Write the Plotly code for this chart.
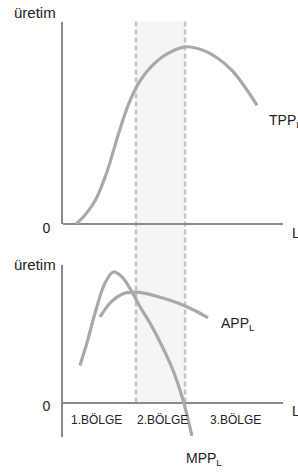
import plotly.graph_objects as go

# ---- data (labor units on x, output units on y) ----
tpp_x = [0.59, 1.00, 1.50, 2.00, 2.50, 3.00, 3.50, 4.00, 4.75, 5.55, 6.30, 7.00, 7.70, 8.30, 8.82]
tpp_y = [0.00, 0.45, 1.25, 2.60, 4.40, 6.00, 7.10, 7.80, 8.45, 8.79, 8.65, 8.25, 7.60, 6.75, 5.89]

mpp_x = [0.77, 1.10, 1.50, 1.90, 2.29, 2.70, 3.10, 3.50, 4.00, 4.50, 5.00, 5.45, 5.86]
mpp_y = [1.84, 3.00, 4.60, 5.90, 6.47, 6.20, 5.55, 4.75, 3.85, 2.80, 1.60, 0.15, -1.65]

app_x = [1.68, 2.20, 2.70, 3.20, 3.80, 4.40, 5.00, 5.60, 6.10, 6.59]
app_y = [4.25, 5.00, 5.38, 5.47, 5.40, 5.22, 5.02, 4.76, 4.50, 4.20]

region_bounds = [3.32, 5.55]
region_labels = ["1.BÖLGE", "2.BÖLGE", "3.BÖLGE"]
region_label_x = [1.50, 4.50, 7.85]

W, H = 298, 474
def px(x):
    return x / W
def py(y):
    return 1 - y / H

FONT = "Liberation Sans, Arial, sans-serif"
CURVE = "#a9a9a9"
AXIS = "#8a8a8a"
TXT = "#222222"

fig = go.Figure()
line = dict(color=CURVE, width=3.2, shape="spline", smoothing=1.0)
fig.add_trace(go.Scatter(x=tpp_x, y=tpp_y, mode="lines", line=line, xaxis="x", yaxis="y", hoverinfo="skip"))
fig.add_trace(go.Scatter(x=mpp_x, y=mpp_y, mode="lines", line=line, xaxis="x2", yaxis="y2", hoverinfo="skip"))
fig.add_trace(go.Scatter(x=app_x, y=app_y, mode="lines", line=line, xaxis="x2", yaxis="y2", hoverinfo="skip"))

xdom = [px(63), px(283)]
common_x = dict(range=[0, 10], domain=xdom, showgrid=False, zeroline=False,
                showline=False, showticklabels=False, ticks="", fixedrange=True)
ytick = dict(tickvals=[0], ticktext=["0"], ticks="", ticklabelstandoff=8, ticklabelshift=4,
             tickfont=dict(size=14, color=TXT))
fig.update_layout(
    width=W, height=H, autosize=False,
    margin=dict(l=0, r=0, t=0, b=0),
    paper_bgcolor="white", plot_bgcolor="rgba(0,0,0,0)",
    showlegend=False,
    font=dict(family=FONT, color=TXT, size=14),
    xaxis=dict(**common_x, anchor="y"),
    xaxis2=dict(**common_x, anchor="y2", matches="x"),
    yaxis=dict(range=[0, 10], domain=[py(230), py(23)], anchor="x",
               showgrid=False, zeroline=True, zerolinecolor=AXIS, zerolinewidth=2,
               showline=True, linecolor=AXIS, linewidth=2, **ytick),
    yaxis2=dict(range=[-(448 - 413) / 20.7, (413 - 272) / 20.7], domain=[py(448), py(272)], anchor="x2",
                showgrid=False, zeroline=True, zerolinecolor=AXIS, zerolinewidth=2,
                showline=True, linecolor=AXIS, linewidth=2, **ytick),
)

# shaded band + dashed region boundaries spanning both panels
fig.add_shape(type="rect", xref="x", yref="paper", x0=region_bounds[0], x1=region_bounds[1],
              y0=py(413), y1=py(22), fillcolor="#f5f5f5", line_width=0, layer="below")
for b in region_bounds:
    fig.add_shape(type="line", xref="x", yref="paper", x0=b, x1=b, y0=py(413), y1=py(22),
                  line=dict(color="#c4c4c4", width=2.5, dash="5px,3px"), layer="below")

ann = []
ann.append(dict(text="üretim", x=px(12), y=py(13), xanchor="left", yanchor="middle", font=dict(size=15)))
ann.append(dict(text="üretim", x=px(12), y=py(271), xanchor="left", yanchor="middle", font=dict(size=15)))
ann.append(dict(text="L", x=px(290), y=py(239), xanchor="left", yanchor="middle", font=dict(size=14)))
ann.append(dict(text="L", x=px(290), y=py(422), xanchor="left", yanchor="middle", font=dict(size=14)))
ann.append(dict(text="TPP<sub>L</sub>", x=px(267), y=py(113), xanchor="left", yanchor="top", font=dict(size=14)))
ann.append(dict(text="APP<sub>L</sub>", x=px(219), y=py(321), xanchor="left", yanchor="top", font=dict(size=14)))
ann.append(dict(text="MPP<sub>L</sub>", x=px(184), y=py(460), xanchor="left", yanchor="top", font=dict(size=14)))
for lab, lx in zip(region_labels, region_label_x):
    ann.append(dict(text=lab, x=lx, xref="x", y=py(431), xanchor="center", yanchor="middle", font=dict(size=12)))
for a in ann:
    a.setdefault("xref", "paper")
    a.setdefault("yref", "paper")
    a["showarrow"] = False
    fig.add_annotation(**a)

fig.write_html("out.html", config={"displayModeBar": False, "responsive": False},
               post_script="document.body.style.margin='0';document.body.style.overflow='hidden';")
